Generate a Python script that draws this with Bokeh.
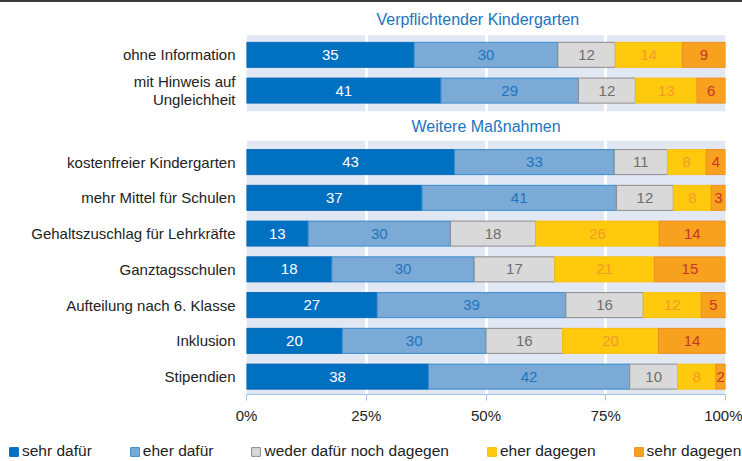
import numpy as np
from bokeh.plotting import figure
from bokeh.layouts import column
from bokeh.models import (ColumnDataSource, Range1d, FixedTicker, Legend, LegendItem, Div)
from bokeh.core.properties import value
from bokeh.embed import file_html
from bokeh.resources import INLINE

# ---------------- data ----------------
group_titles = ["Verpflichtender Kindergarten", "Weitere Maßnahmen"]
group1_items = ["ohne Information", "mit Hinweis auf\nUngleichheit"]
group2_items = ["kostenfreier Kindergarten", "mehr Mittel für Schulen",
                "Gehaltszuschlag für Lehrkräfte", "Ganztagsschulen",
                "Aufteilung nach 6. Klasse", "Inklusion", "Stipendien"]
series_names = ["sehr dafür", "eher dafür", "weder dafür noch dagegen",
                "eher dagegen", "sehr dagegen"]
sehr_dafuer = [35, 41, 43, 37, 13, 18, 27, 20, 38]
eher_dafuer = [30, 29, 33, 41, 30, 30, 39, 30, 42]
weder = [12, 12, 11, 12, 18, 17, 16, 16, 10]
eher_dagegen = [14, 13, 8, 8, 26, 21, 12, 20, 8]
sehr_dagegen = [9, 6, 4, 3, 14, 15, 5, 14, 2]
x_ticks = [0, 25, 50, 75, 100]
x_tick_labels = ["0%", "25%", "50%", "75%", "100%"]

# ---------------- styles ----------------
FONT = "Liberation Sans"
fills = ["#0070c0", "#7aaad5", "#d9d9d9", "#ffc90d", "#f7a11e"]
lines = ["#0a6cb8", "#3b8ccf", "#8c8c8c", "#f7bf12", "#ee8e25"]
text_cols = ["#ffffff", "#1f74c0", "#6e6e6e", "#f59a2a", "#c8362a"]
band_color = "#e1e8f4"
W = 742
title_x = [48.3, 50]   # horizontal placement of the two group headings

# slot layout: title1, group1 rows, title2, group2 rows
title_slots = [0, 1 + len(group1_items)]
row_slots = [1 + i for i in range(len(group1_items))] + \
            [title_slots[1] + 1 + i for i in range(len(group2_items))]
row_labels = group1_items + group2_items

vals = np.array([sehr_dafuer, eher_dafuer, weder, eher_dagegen, sehr_dagegen], dtype=float)
totals = vals.sum(axis=0)
shares = vals / totals * 100.0
cum = np.cumsum(shares, axis=0)
lefts = cum - shares

# ---------------- top rule ----------------
rule = Div(text="", width=W, height=2, margin=0,
           styles={"background-color": "#3c3c3c"})

# ---------------- main chart ----------------
p = figure(width=W, height=439, output_backend="svg", toolbar_location=None,
           x_range=Range1d(0, 100), y_range=Range1d(10.5, -0.464),
           min_border_left=246, min_border_right=17, min_border_top=0,
           min_border_bottom=47)
p.frame_align = False
p.outline_line_color = None
p.background_fill_color = "white"
p.border_fill_color = "white"

band_top = [row_slots[0] - 0.55, row_slots[len(group1_items)] - 0.6]
band_bottom = [row_slots[len(group1_items) - 1] + 0.58, row_slots[-1] + 0.5]
p.quad(left=[0, 0], right=[100, 100], top=band_top, bottom=band_bottom,
       fill_color=band_color, line_color=None, level="image")

p.xgrid.ticker = FixedTicker(ticks=x_ticks[1:-1])
p.xgrid.grid_line_color = "white"
p.xgrid.grid_line_width = 3
p.ygrid.visible = False

for k, name in enumerate(series_names):
    src = ColumnDataSource(dict(y=row_slots, left=lefts[k], right=cum[k],
                                mid=(lefts[k] + cum[k]) / 2,
                                lab=[str(int(v)) for v in vals[k]]))
    p.hbar(y="y", left="left", right="right", height=0.7, source=src,
           fill_color=fills[k], line_color=lines[k], line_width=1)
    p.text(x="mid", y="y", text="lab", source=src, text_align="center",
           text_baseline="middle", text_color=text_cols[k],
           text_font_size="15px", text_font=value(FONT))

p.text(x=title_x, y=title_slots, text=group_titles, text_align="center",
       text_baseline="middle", text_color="#1a74c0", text_font_size="16px",
       text_font=value(FONT))

p.yaxis.ticker = FixedTicker(ticks=row_slots)
p.yaxis.major_label_overrides = {s: l for s, l in zip(row_slots, row_labels)}
p.yaxis.axis_line_color = None
p.yaxis.major_tick_line_color = None
p.yaxis.major_tick_out = 0
p.yaxis.major_tick_in = 0
p.yaxis.minor_tick_line_color = None
p.yaxis.major_label_standoff = 11
p.yaxis.major_label_text_font_size = "15px"
p.yaxis.major_label_text_font = FONT
p.yaxis.major_label_text_color = "#222222"
p.yaxis.major_label_text_line_height = 1.1

p.xaxis.ticker = FixedTicker(ticks=x_ticks)
p.xaxis.major_label_overrides = {t: l for t, l in zip(x_ticks, x_tick_labels)}
p.xaxis.axis_line_color = "#9fc2e6"
p.xaxis.major_tick_line_color = "#9fc2e6"
p.xaxis.major_tick_out = 6
p.xaxis.major_tick_in = 0
p.xaxis.minor_tick_line_color = None
p.xaxis.major_label_standoff = 6
p.xaxis.major_label_text_font_size = "15px"
p.xaxis.major_label_text_font = FONT
p.xaxis.major_label_text_color = "#222222"

# ---------------- legend strip ----------------
lg = figure(width=W, height=20, output_backend="svg", toolbar_location=None,
            min_border=0, x_axis_location=None, y_axis_location=None,
            x_range=Range1d(0, 1), y_range=Range1d(0, 1))
lg.frame_align = False
lg.grid.visible = False
lg.outline_line_color = None
items = []
for k, name in enumerate(series_names):
    r = lg.hbar(y=[np.nan], left=[np.nan], right=[np.nan], height=1,
                fill_color=fills[k], line_color=lines[k], line_width=1)
    items.append(LegendItem(label=name, renderers=[r]))
legend = Legend(items=items, orientation="horizontal", location=(8, 1),
                border_line_color=None, background_fill_alpha=0, padding=0,
                margin=0, spacing=37, glyph_width=11, glyph_height=11,
                label_height=15, label_standoff=3, label_text_font_size="15.5px",
                label_text_font=FONT, label_text_color="#222222")
lg.add_layout(legend)

layout = column(rule, p, lg, spacing=0)
open("out.html", "w").write(file_html(layout, INLINE))
